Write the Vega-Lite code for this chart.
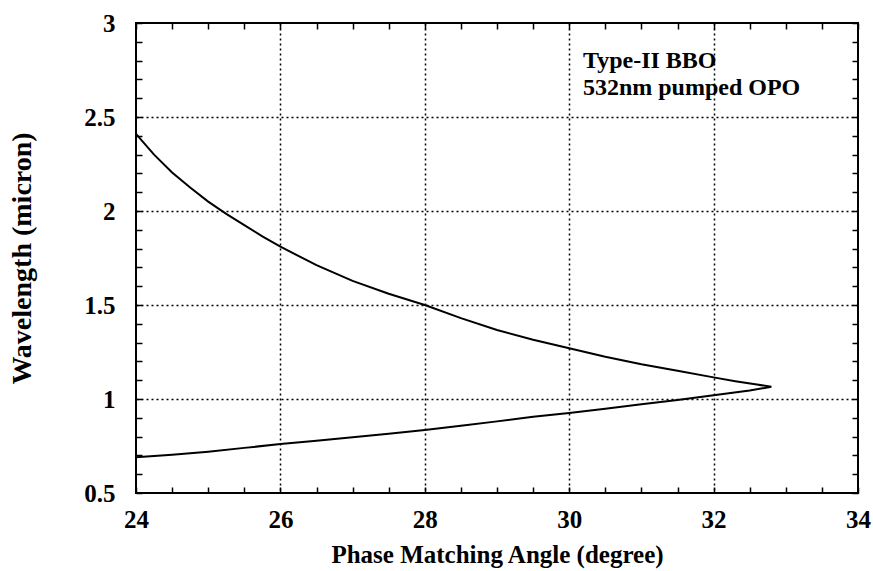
{
  "$schema": "https://vega.github.io/schema/vega-lite/v6.json",
  "width": 722,
  "height": 470,
  "autosize": {"type": "none"},
  "padding": {"left": 136, "top": 23, "right": 15, "bottom": 78},
  "background": "white",
  "config": {
    "view": {"stroke": "black", "strokeWidth": 2},
    "font": "Liberation Serif",
    "axis": {
      "domain": false,
      "tickColor": "black",
      "tickWidth": 1.5,
      "tickSize": -6,
      "labelFont": "Liberation Serif",
      "labelFontWeight": "bold",
      "labelFontSize": 25,
      "labelColor": "black",
      "titleFont": "Liberation Serif",
      "titleFontWeight": "bold",
      "titleFontSize": 25,
      "titleColor": "black"
    }
  },
  "layer": [
    {
      "data": {"values": [
        {"o": 1, "angle": 24.0, "wl": 2.41},
        {"o": 2, "angle": 24.25, "wl": 2.30},
        {"o": 3, "angle": 24.5, "wl": 2.205},
        {"o": 4, "angle": 24.75, "wl": 2.125},
        {"o": 5, "angle": 25.0, "wl": 2.05},
        {"o": 6, "angle": 25.25, "wl": 1.985},
        {"o": 7, "angle": 25.5, "wl": 1.925},
        {"o": 8, "angle": 25.75, "wl": 1.865},
        {"o": 9, "angle": 26.0, "wl": 1.81},
        {"o": 10, "angle": 26.5, "wl": 1.712},
        {"o": 11, "angle": 27.0, "wl": 1.628},
        {"o": 12, "angle": 27.5, "wl": 1.56},
        {"o": 13, "angle": 28.0, "wl": 1.50},
        {"o": 14, "angle": 28.5, "wl": 1.43},
        {"o": 15, "angle": 29.0, "wl": 1.367},
        {"o": 16, "angle": 29.5, "wl": 1.315},
        {"o": 17, "angle": 30.0, "wl": 1.27},
        {"o": 18, "angle": 30.5, "wl": 1.225},
        {"o": 19, "angle": 31.0, "wl": 1.185},
        {"o": 20, "angle": 31.5, "wl": 1.15},
        {"o": 21, "angle": 32.0, "wl": 1.115},
        {"o": 22, "angle": 32.3, "wl": 1.095},
        {"o": 23, "angle": 32.6, "wl": 1.077},
        {"o": 24, "angle": 32.8, "wl": 1.065},
        {"o": 25, "angle": 32.5, "wl": 1.045},
        {"o": 26, "angle": 32.0, "wl": 1.02},
        {"o": 27, "angle": 31.5, "wl": 0.995},
        {"o": 28, "angle": 31.0, "wl": 0.972},
        {"o": 29, "angle": 30.5, "wl": 0.948},
        {"o": 30, "angle": 30.0, "wl": 0.925},
        {"o": 31, "angle": 29.5, "wl": 0.905},
        {"o": 32, "angle": 29.0, "wl": 0.881},
        {"o": 33, "angle": 28.5, "wl": 0.858},
        {"o": 34, "angle": 28.0, "wl": 0.835},
        {"o": 35, "angle": 27.5, "wl": 0.815},
        {"o": 36, "angle": 27.0, "wl": 0.797},
        {"o": 37, "angle": 26.5, "wl": 0.778},
        {"o": 38, "angle": 26.0, "wl": 0.76},
        {"o": 39, "angle": 25.5, "wl": 0.74},
        {"o": 40, "angle": 25.0, "wl": 0.72},
        {"o": 41, "angle": 24.5, "wl": 0.704},
        {"o": 42, "angle": 24.0, "wl": 0.69}
      ]},
      "mark": {"type": "line", "color": "black", "strokeWidth": 2},
      "encoding": {
        "order": {"field": "o", "type": "quantitative"},
        "x": {
          "field": "angle", "type": "quantitative",
          "scale": {"domain": [24, 34], "nice": false, "zero": false},
          "axis": {
            "orient": "bottom",
            "title": "Phase Matching Angle (degree)",
            "values": [24, 24.5, 25, 25.5, 26, 26.5, 27, 27.5, 28, 28.5, 29, 29.5, 30, 30.5, 31, 31.5, 32, 32.5, 33, 33.5, 34],
            "labelExpr": "datum.value % 2 === 0 ? format(datum.value, 'd') : ''",
            "labelPadding": 20,
            "labelFlush": false,
            "labelOverlap": false,
            "grid": true,
            "gridColor": "black",
            "gridWidth": 1.5,
            "gridDash": [2, 3],
            "gridOpacity": {"condition": {"test": "datum.value % 2 === 0 && datum.value > 24 && datum.value < 34", "value": 1}, "value": 0},
            "titleY": 61,
            "titleBaseline": "middle"
          }
        },
        "y": {
          "field": "wl", "type": "quantitative",
          "scale": {"domain": [0.5, 3], "nice": false, "zero": false},
          "axis": {
            "orient": "left",
            "title": "Wavelength (micron)",
            "values": [0.5, 0.6, 0.7, 0.8, 0.9, 1, 1.1, 1.2, 1.3, 1.4, 1.5, 1.6, 1.7, 1.8, 1.9, 2, 2.1, 2.2, 2.3, 2.4, 2.5, 2.6, 2.7, 2.8, 2.9, 3],
            "labelExpr": "abs(datum.value * 2 - round(datum.value * 2)) < 0.001 ? format(datum.value, '') : ''",
            "labelPadding": 27,
            "labelFlush": false,
            "labelOverlap": false,
            "grid": true,
            "gridColor": "black",
            "gridWidth": 1.5,
            "gridDash": [2, 3],
            "gridOpacity": {"condition": {"test": "abs(datum.value * 2 - round(datum.value * 2)) < 0.001 && datum.value > 0.5 && datum.value < 3", "value": 1}, "value": 0},
            "titleX": -114,
            "titleFontSize": 28,
            "titleBaseline": "middle"
          }
        }
      }
    },
    {
      "data": {"values": [
        {"angle": 30.19, "wl": 2.8, "label": ["Type-II BBO", "532nm pumped OPO"]}
      ]},
      "mark": {"type": "text", "align": "left", "baseline": "middle", "font": "Liberation Serif", "fontWeight": "bold", "fontSize": 24, "lineHeight": 27, "color": "black"},
      "encoding": {
        "text": {"field": "label"},
        "x": {
          "field": "angle", "type": "quantitative",
          "axis": {
            "orient": "top", "title": null, "labels": false, "grid": false,
            "values": [24, 24.5, 25, 25.5, 26, 26.5, 27, 27.5, 28, 28.5, 29, 29.5, 30, 30.5, 31, 31.5, 32, 32.5, 33, 33.5, 34]
          }
        },
        "y": {
          "field": "wl", "type": "quantitative",
          "axis": {
            "orient": "right", "title": null, "labels": false, "grid": false,
            "values": [0.5, 0.6, 0.7, 0.8, 0.9, 1, 1.1, 1.2, 1.3, 1.4, 1.5, 1.6, 1.7, 1.8, 1.9, 2, 2.1, 2.2, 2.3, 2.4, 2.5, 2.6, 2.7, 2.8, 2.9, 3]
          }
        }
      }
    }
  ],
  "resolve": {"axis": {"x": "independent", "y": "independent"}}
}
